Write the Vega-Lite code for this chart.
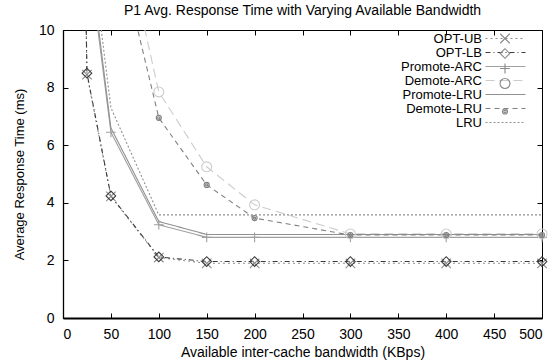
{
  "$schema": "https://vega.github.io/schema/vega-lite/v6.json",
  "width": 479,
  "height": 288,
  "autosize": {"type": "none"},
  "padding": {"left": 63, "top": 30, "right": 13, "bottom": 46},
  "background": "white",
  "title": {"text": "P1 Avg. Response Time with Varying Available Bandwidth", "fontSize": 14, "fontWeight": "normal", "font": "Liberation Sans", "color": "black", "offset": 5, "anchor": "middle"},
  "config": {
    "view": {"stroke": "black", "strokeWidth": 1},
    "axis": {"domainColor": "black", "tickColor": "black", "grid": false, "labelFont": "Liberation Sans", "titleFont": "Liberation Sans", "labelColor": "black", "titleColor": "black", "titleFontWeight": "normal", "labelFontSize": 14, "titleFontSize": 14, "tickSize": -5, "domainWidth": 1.3},
    "legend": {"labelFont": "Liberation Sans", "labelFontSize": 13, "labelColor": "black", "symbolStrokeWidth": 1.1, "rowPadding": 0, "labelAlign": "right", "labelOffset": -30, "padding": 0}
  },
  "data": {"values": [
    {"series": "OPT-UB", "bw": 10, "rt": 40},
    {"series": "OPT-UB", "bw": 25, "rt": 8.45},
    {"series": "OPT-UB", "bw": 50, "rt": 4.22},
    {"series": "OPT-UB", "bw": 100, "rt": 2.1},
    {"series": "OPT-UB", "bw": 150, "rt": 1.9},
    {"series": "OPT-UB", "bw": 200, "rt": 1.9},
    {"series": "OPT-UB", "bw": 300, "rt": 1.9},
    {"series": "OPT-UB", "bw": 400, "rt": 1.9},
    {"series": "OPT-UB", "bw": 500, "rt": 1.9},
    {"series": "OPT-LB", "bw": 10, "rt": 40},
    {"series": "OPT-LB", "bw": 25, "rt": 8.5},
    {"series": "OPT-LB", "bw": 50, "rt": 4.24},
    {"series": "OPT-LB", "bw": 100, "rt": 2.12},
    {"series": "OPT-LB", "bw": 150, "rt": 1.96},
    {"series": "OPT-LB", "bw": 200, "rt": 1.96},
    {"series": "OPT-LB", "bw": 300, "rt": 1.96},
    {"series": "OPT-LB", "bw": 400, "rt": 1.96},
    {"series": "OPT-LB", "bw": 500, "rt": 1.96},
    {"series": "Promote-ARC", "bw": 25, "rt": 13.0},
    {"series": "Promote-ARC", "bw": 50, "rt": 6.45},
    {"series": "Promote-ARC", "bw": 100, "rt": 3.24},
    {"series": "Promote-ARC", "bw": 150, "rt": 2.8},
    {"series": "Promote-ARC", "bw": 200, "rt": 2.8},
    {"series": "Promote-ARC", "bw": 300, "rt": 2.8},
    {"series": "Promote-ARC", "bw": 400, "rt": 2.8},
    {"series": "Promote-ARC", "bw": 500, "rt": 2.8},
    {"series": "Demote-ARC", "bw": 50, "rt": 15.3},
    {"series": "Demote-ARC", "bw": 100, "rt": 7.85},
    {"series": "Demote-ARC", "bw": 150, "rt": 5.25},
    {"series": "Demote-ARC", "bw": 200, "rt": 3.93},
    {"series": "Demote-ARC", "bw": 300, "rt": 2.92},
    {"series": "Demote-ARC", "bw": 400, "rt": 2.92},
    {"series": "Demote-ARC", "bw": 500, "rt": 2.92},
    {"series": "Promote-LRU", "bw": 25, "rt": 13.3},
    {"series": "Promote-LRU", "bw": 50, "rt": 6.6},
    {"series": "Promote-LRU", "bw": 100, "rt": 3.35},
    {"series": "Promote-LRU", "bw": 150, "rt": 2.9},
    {"series": "Promote-LRU", "bw": 200, "rt": 2.9},
    {"series": "Promote-LRU", "bw": 300, "rt": 2.9},
    {"series": "Promote-LRU", "bw": 400, "rt": 2.9},
    {"series": "Promote-LRU", "bw": 500, "rt": 2.9},
    {"series": "Demote-LRU", "bw": 50, "rt": 13.9},
    {"series": "Demote-LRU", "bw": 100, "rt": 6.95},
    {"series": "Demote-LRU", "bw": 150, "rt": 4.62},
    {"series": "Demote-LRU", "bw": 200, "rt": 3.47},
    {"series": "Demote-LRU", "bw": 300, "rt": 2.88},
    {"series": "Demote-LRU", "bw": 400, "rt": 2.88},
    {"series": "Demote-LRU", "bw": 500, "rt": 2.88},
    {"series": "LRU", "bw": 25, "rt": 14.0},
    {"series": "LRU", "bw": 50, "rt": 7.3},
    {"series": "LRU", "bw": 100, "rt": 3.58},
    {"series": "LRU", "bw": 150, "rt": 3.58},
    {"series": "LRU", "bw": 200, "rt": 3.58},
    {"series": "LRU", "bw": 300, "rt": 3.58},
    {"series": "LRU", "bw": 400, "rt": 3.58},
    {"series": "LRU", "bw": 500, "rt": 3.58}
  ]},
  "layer": [
    {
      "mark": {"type": "line", "clip": true, "strokeWidth": 1.1},
      "encoding": {
        "x": {"field": "bw", "type": "quantitative", "scale": {"domain": [0, 500], "nice": false},
              "axis": {"values": [0, 50, 100, 150, 200, 250, 300, 350, 400, 450, 500], "title": "Available inter-cache bandwidth (KBps)", "labelPadding": 14, "titlePadding": 4, "domainWidth": 2}},
        "y": {"field": "rt", "type": "quantitative", "scale": {"domain": [0, 10], "nice": false},
              "axis": {"values": [0, 2, 4, 6, 8, 10], "title": "Average Response Time (ms)", "titleFontSize": 13, "labelPadding": 14, "titlePadding": 12}},
        "color": {"field": "series", "type": "nominal",
                  "scale": {"domain": ["OPT-UB", "OPT-LB", "Promote-ARC", "Demote-ARC", "Promote-LRU", "Demote-LRU", "LRU"],
                            "range": ["#8c8c8c", "#3c3c3c", "#a0a0a0", "#cccccc", "#909090", "#808080", "#909090"]},
                  "legend": {"title": null, "orient": "none", "legendX": 436, "legendY": 2, "symbolType": "M-4,0L4,0", "symbolSize": 100}},
        "strokeDash": {"field": "series", "type": "nominal",
                  "scale": {"domain": ["OPT-UB", "OPT-LB", "Promote-ARC", "Demote-ARC", "Promote-LRU", "Demote-LRU", "LRU"],
                            "range": [[2, 3], [5, 3, 1, 3], [1, 0], [9, 5], [1, 0], [5, 4], [2, 2]]},
                  "legend": {"title": null, "orient": "none", "legendX": 436, "legendY": 2, "symbolType": "M-4,0L4,0", "symbolSize": 100}}
      }
    },
    {
      "transform": [{"filter": {"field": "rt", "lte": 10}}],
      "mark": {"type": "point", "clip": false, "filled": false, "strokeWidth": 1.1, "opacity": 1},
      "encoding": {
        "x": {"field": "bw", "type": "quantitative", "axis": {"orient": "top", "labels": false, "title": null, "domain": false, "values": [0, 50, 100, 150, 200, 250, 300, 350, 400, 450, 500]}},
        "y": {"field": "rt", "type": "quantitative", "axis": {"orient": "right", "labels": false, "title": null, "domain": false, "values": [0, 2, 4, 6, 8, 10]}},
        "color": {"field": "series", "type": "nominal", "legend": null},
        "shape": {"field": "series", "type": "nominal",
                  "scale": {"domain": ["OPT-UB", "OPT-LB", "Promote-ARC", "Demote-ARC", "Promote-LRU", "Demote-LRU", "LRU", "none"],
                            "range": ["M-1,-1L1,1M-1,1L1,-1", "diamond", "M-1,0L1,0M0,-1L0,1", "circle", "M0,0", "M-0.5,0A0.5,0.5 0 1,0 0.5,0A0.5,0.5 0 1,0 -0.5,0M-0.22,0A0.22,0.22 0 1,0 0.22,0A0.22,0.22 0 1,0 -0.22,0", "M0,0", "M0,0"]},
                  "legend": {"title": null, "orient": "none", "legendX": 435.5, "legendY": 2, "labelExpr": "''",
                             "values": ["OPT-UB", "OPT-LB", "Promote-ARC", "Demote-ARC", "Promote-LRU", "Demote-LRU", "LRU"],
                             "encode": {"symbols": {"update": {"stroke": {"scale": "color", "field": "value"}}}}}},
        "size": {"field": "series", "type": "nominal",
                 "scale": {"domain": ["OPT-UB", "OPT-LB", "Promote-ARC", "Demote-ARC", "Promote-LRU", "Demote-LRU", "LRU", "none"], "range": [90, 110, 140, 70, 10, 49, 10, 10]},
                 "legend": {"title": null, "orient": "none", "legendX": 435.5, "legendY": 2, "labelExpr": "''",
                             "values": ["OPT-UB", "OPT-LB", "Promote-ARC", "Demote-ARC", "Promote-LRU", "Demote-LRU", "LRU"],
                             "encode": {"symbols": {"update": {"stroke": {"scale": "color", "field": "value"}}}}}}
      }
    }
  ],
  "resolve": {"axis": {"x": "independent", "y": "independent"}}
}
